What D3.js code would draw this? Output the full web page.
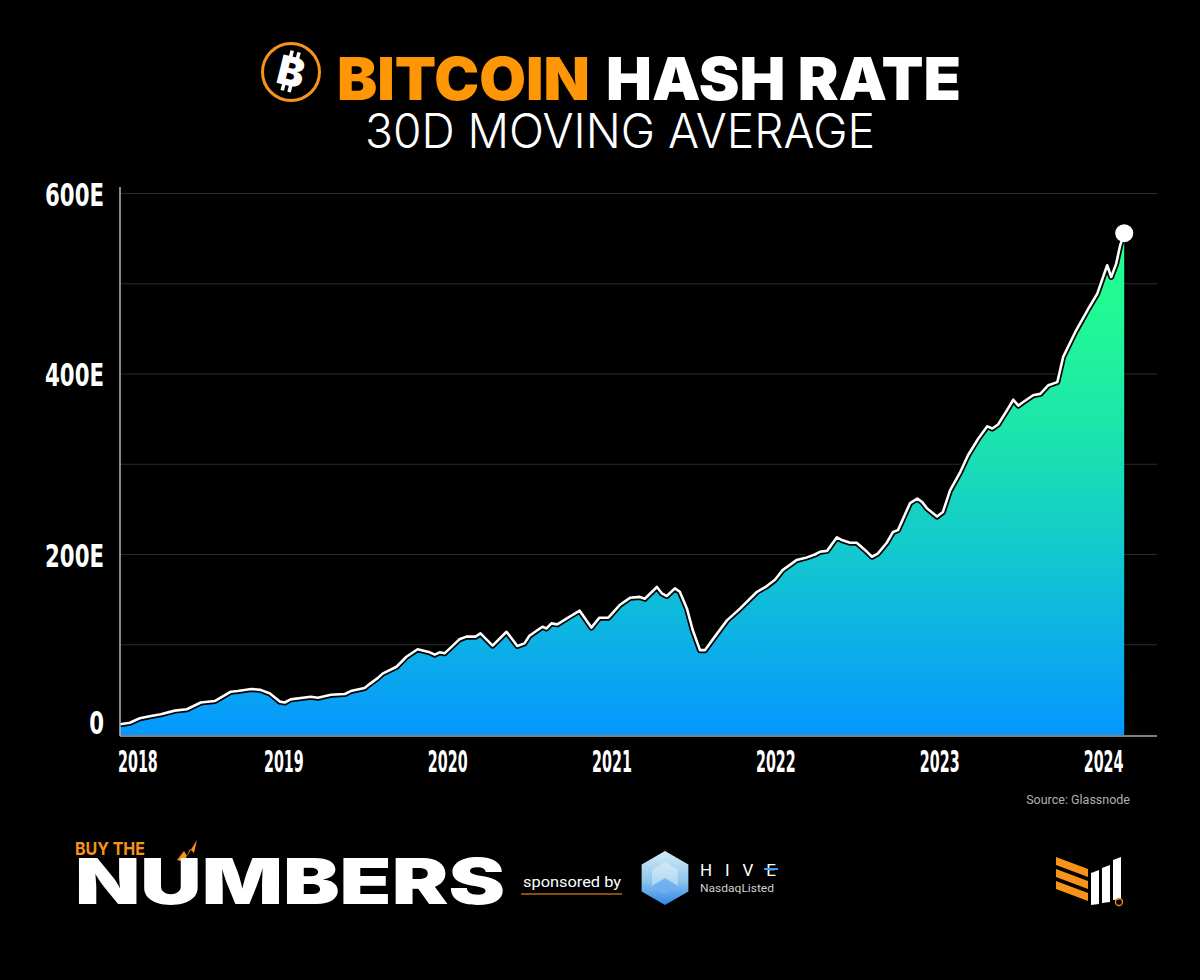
<!DOCTYPE html>
<html><head><meta charset="utf-8">
<script src="https://cdn.jsdelivr.net/npm/d3@7"></script>
<style>html,body{margin:0;padding:0;background:#000;} svg{display:block}</style>
</head><body>
<svg id="c" width="1200" height="980"></svg>
<script>
// ---------- DATA ----------
const dates = [
"2018-01-01","2018-01-23","2018-02-14","2018-03-11","2018-04-02","2018-05-03","2018-05-30","2018-06-30","2018-07-31","2018-09-05",
"2018-09-20","2018-10-21","2018-11-10","2018-12-01","2018-12-23","2019-01-03","2019-01-16","2019-03-02","2019-03-18","2019-04-16",
"2019-05-17","2019-05-30","2019-06-30","2019-07-07","2019-07-29","2019-08-09","2019-09-09","2019-10-01","2019-10-26","2019-11-22",
"2019-12-03","2019-12-14","2019-12-25","2020-01-27","2020-02-12","2020-03-03","2020-03-14","2020-04-10","2020-05-11","2020-06-04",
"2020-06-20","2020-07-01","2020-07-30","2020-08-08","2020-08-19","2020-09-01","2020-09-28","2020-10-21","2020-11-16","2020-12-04",
"2020-12-24","2021-01-18","2021-02-10","2021-03-04","2021-03-15","2021-04-11","2021-04-22","2021-05-03","2021-05-21","2021-06-01",
"2021-06-17","2021-06-30","2021-07-16","2021-07-27","2021-08-18","2021-09-14","2021-10-13","2021-11-20","2021-12-12","2021-12-30",
"2022-01-16","2022-02-16","2022-03-11","2022-03-29","2022-04-09","2022-04-25","2022-05-17","2022-05-28","2022-06-15","2022-06-30",
"2022-07-23","2022-08-03","2022-08-16","2022-09-05","2022-09-19","2022-09-30","2022-10-27","2022-11-12","2022-11-23","2022-12-04",
"2022-12-26","2023-01-08","2023-01-24","2023-02-16","2023-03-05","2023-03-28","2023-04-17","2023-04-28","2023-05-11","2023-05-31",
"2023-06-14","2023-06-25","2023-07-06","2023-07-28","2023-08-13","2023-08-31","2023-09-20","2023-10-03","2023-10-30","2023-11-26",
"2023-12-18","2024-01-09","2024-01-18","2024-01-29","2024-02-07","2024-02-16"
];
const hashRate = [
12,13.6,18.5,21,23,27,28.5,36,37.6,48,
48.7,51,50,46,37,36,39.5,42.4,41.3,44.6,
45.4,48.7,52,55,63,68,75.6,86.7,95,91.6,
89,91.6,90.5,106,109,109,112.6,99,114.4,98.6,
101.5,110,120,118,123.7,122.6,131,137.7,119,130,
130,144,152,153,151,164,157,154,162.5,158.7,
140,116,94,94,109,127,140,158.7,165,172,
182.7,193.8,196.8,200,203,204,219,216,213,213,
203,197.5,201,213,225,227,257,262,258,251,
242,247,271,291.6,310,328.5,342,339.6,344,360,
371.5,365,369,376.5,378,387.6,391,419,446.6,470.6,
489,520.5,507.5,522,542.6,556
];
const yLabelTicks = [0, 200, 400, 600];
const yGridTicks = [100, 200, 300, 400, 500, 600];
const xTickYears = ["2018","2019","2020","2021","2022","2023","2024"];

// ---------- SETUP ----------
const svg = d3.select("#c");
svg.append("rect").attr("width",1200).attr("height",980).attr("fill","#000");
const parse = d3.timeParse("%Y-%m-%d");
const data = dates.map((d,i)=>({date:parse(d), v:hashRate[i]}));

const x = d3.scaleTime().domain([parse("2018-01-01"), parse("2024-04-29")]).range([120, 1157]);
const y = d3.scaleLinear().domain([0, 600]).range([735, 193.5]);

const defs = svg.append("defs");
const grad = defs.append("linearGradient").attr("id","ag")
  .attr("gradientUnits","userSpaceOnUse").attr("x1",0).attr("x2",0).attr("y1",y(0)).attr("y2",y(560));
[[0,"#0597ff"],[0.2,"#0db3e3"],[0.35,"#12c7d0"],[0.62,"#1de6aa"],[0.85,"#21fa93"],[1,"#22ff8e"]]
  .forEach(([o,c])=>grad.append("stop").attr("offset",o).attr("stop-color",c));

// grid
svg.append("g").selectAll("line").data(yGridTicks).join("line")
  .attr("x1",120).attr("x2",1157).attr("y1",d=>y(d)).attr("y2",d=>y(d))
  .attr("stroke","#2b2b2b").attr("stroke-width",1);

// area + line
const area = d3.area().x(d=>x(d.date)).y0(y(0)).y1(d=>y(d.v));
const line = d3.line().x(d=>x(d.date)).y(d=>y(d.v));
svg.append("path").datum(data).attr("d",area).attr("fill","url(#ag)");
svg.append("path").datum(data).attr("d",line).attr("fill","none").attr("stroke","#000").attr("stroke-width",6).attr("stroke-linejoin","round");
svg.append("path").datum(data).attr("d",line).attr("fill","none").attr("stroke","#fff").attr("stroke-width",2.6).attr("stroke-linejoin","round");
const last = data[data.length-1];
svg.append("circle").attr("cx",x(last.date)).attr("cy",y(last.v)).attr("r",9).attr("fill","#fff");

// axes lines
svg.append("line").attr("x1",120).attr("x2",120).attr("y1",187).attr("y2",736).attr("stroke","#b5b5b5").attr("stroke-width",1.5);
svg.append("line").attr("x1",120).attr("x2",1157).attr("y1",736).attr("y2",736).attr("stroke","#a8a8a8").attr("stroke-width",1.5);

const tickFont = "'Liberation Sans Narrow','DejaVu Sans Condensed',sans-serif";
// y labels
svg.append("g").selectAll("text").data(yLabelTicks).join("text")
  .attr("transform",d=>`translate(104,${d===0 ? y(0)-1 : y(d)+12}) scale(0.74,1)`)
  .attr("text-anchor","end").attr("font-family",tickFont).attr("font-weight","bold")
  .attr("font-size",32).attr("fill","#fff").text(d=> d===0 ? "0" : d+"E");

// x labels
svg.append("g").selectAll("text").data(xTickYears).join("text")
  .attr("transform",(d,i)=>{const px = x(parse(d+"-01-01")); return `translate(${i===0?px-2:px},772) scale(0.53,1)`;})
  .attr("text-anchor",(d,i)=>i===0?"start":"middle")
  .attr("font-family",tickFont).attr("font-weight","bold").attr("font-size",30).attr("fill","#fff").text(d=>d);

// source
svg.append("text").attr("x",1130).attr("y",804).attr("text-anchor","end")
  .attr("font-family","Roboto, 'Liberation Sans', sans-serif").attr("font-size",12.5).attr("fill","#b0b0b0").text("Source: Glassnode");

// ---------- TITLE ----------
const tg = svg.append("g").attr("transform","translate(291,72)");
tg.append("circle").attr("r",28.5).attr("fill","none").attr("stroke","#f7931a").attr("stroke-width",3);
const bg = tg.append("g").attr("transform","rotate(14)");
bg.append("text").attr("x",0).attr("y",14).attr("text-anchor","middle")
  .attr("font-family","Inter, 'DejaVu Sans', sans-serif").attr("font-weight",900).attr("font-size",40).attr("fill","#fff").text("B");
[[-4],[3]].forEach(([dx])=>{
  bg.append("rect").attr("x",dx-1.8).attr("y",-21).attr("width",3.6).attr("height",7).attr("fill","#fff");
  bg.append("rect").attr("x",dx-1.8).attr("y",13).attr("width",3.6).attr("height",7).attr("fill","#fff");
});

const titleFont = "Inter, 'Open Sans', 'DejaVu Sans', sans-serif";
svg.append("text").attr("x",337).attr("y",100).attr("font-family",titleFont).attr("font-weight",900)
  .attr("font-size",59).attr("fill","#ff9606").attr("textLength",253).attr("lengthAdjust","spacingAndGlyphs").text("BITCOIN");
svg.append("text").attr("x",606).attr("y",100).attr("font-family",titleFont).attr("font-weight",900)
  .attr("font-size",59).attr("fill","#fff").attr("textLength",355).attr("lengthAdjust","spacingAndGlyphs").text("HASH RATE");
svg.append("text").attr("x",365).attr("y",148).attr("font-family",titleFont).attr("font-weight",300)
  .attr("font-size",48).attr("fill","#fff").attr("textLength",510).attr("lengthAdjust","spacingAndGlyphs").text("30D MOVING AVERAGE");

// ---------- FOOTER ----------
svg.append("text").attr("x",75).attr("y",855).attr("font-family",titleFont).attr("font-weight",700)
  .attr("font-size",18).attr("fill","#f7931a").attr("textLength",70).attr("lengthAdjust","spacingAndGlyphs").text("BUY THE");
svg.append("path").attr("d","M177,860 L184,851 L187,856 L197,840 L194,853 L190,849 L184,862 Z").attr("fill","#f7931a");
svg.append("text").attr("x",75).attr("y",904).attr("font-family",titleFont).attr("font-weight",900)
  .attr("font-size",63).attr("fill","#fff").attr("textLength",430).attr("lengthAdjust","spacingAndGlyphs").text("NUMBERS");
svg.append("text").attr("x",523).attr("y",887).attr("font-family","Roboto, 'Liberation Sans', sans-serif")
  .attr("font-size",15).attr("fill","#fff").attr("textLength",98).attr("lengthAdjust","spacingAndGlyphs").text("sponsored by");
svg.append("line").attr("x1",521).attr("x2",622).attr("y1",894).attr("y2",894).attr("stroke","#b5690f").attr("stroke-width",1.5);

// HIVE hexagon
const hg = defs.append("linearGradient").attr("id","hg").attr("x1",0).attr("x2",0).attr("y1",0).attr("y2",1);
[[0,"#d4ecf7"],[0.55,"#8fc6ea"],[1,"#2f86ea"]].forEach(([o,c])=>hg.append("stop").attr("offset",o).attr("stop-color",c));
const hex = d3.range(6).map(i=>{const a=Math.PI/180*(60*i-90); return [665+27*Math.cos(a), 878+27*Math.sin(a)];});
svg.append("polygon").attr("points",hex.map(p=>p.join(",")).join(" ")).attr("fill","url(#hg)");
svg.append("polygon").attr("points","665,862 678,870 678,886 665,894 652,886 652,870").attr("fill","#ffffff").attr("opacity",0.35);
svg.append("polygon").attr("points","665,878 678,886 665,894 652,886").attr("fill","#4a9cf0").attr("opacity",0.6);
svg.append("text").attr("x",700).attr("y",876).attr("font-family","Roboto, 'Liberation Sans', sans-serif")
  .attr("font-size",17).attr("fill","#fff").attr("textLength",76).attr("lengthAdjust","spacing").text("HIVE");
svg.append("line").attr("x1",764).attr("x2",778).attr("y1",869).attr("y2",869).attr("stroke","#3aa0ff").attr("stroke-width",2);
svg.append("text").attr("x",700).attr("y",892).attr("font-family","Roboto, 'Liberation Sans', sans-serif")
  .attr("font-size",11).attr("fill","#d0d0d0").attr("textLength",74).attr("lengthAdjust","spacingAndGlyphs").text("NasdaqListed");

// right logo
const rl = svg.append("g");
[857,869,881].forEach(t=>{
  rl.append("polygon").attr("points",`1056,${t} 1088,${t+12} 1088,${t+20} 1056,${t+8}`).attr("fill","#f7931a");
});
[[1091,871,905],[1102,866,903],[1113,858,900]].forEach(([xx,t,b])=>{
  rl.append("polygon").attr("points",`${xx},${t+2} ${xx+8},${t-1} ${xx+8},${b-1} ${xx},${b}`).attr("fill","#fff");
});
rl.append("circle").attr("cx",1119).attr("cy",902).attr("r",3.5).attr("fill","none").attr("stroke","#f7931a").attr("stroke-width",1.3);
</script>
</body></html>
